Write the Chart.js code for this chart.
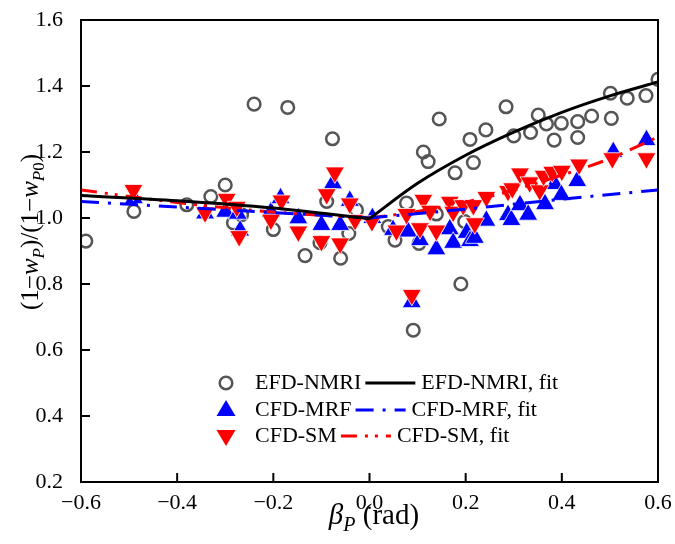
<!DOCTYPE html>
<html>
	<head>
		<meta charset="UTF-8">
		<style>
			body { margin: 0; background: #fff; }
		</style>
	</head>
	<script src="https://cdn.jsdelivr.net/npm/chart.js@4.4.1/dist/chart.umd.min.js"></script>
	<body>
		<canvas id="myChart" width="675" height="544"></canvas>
		<script>
			// EFD-NMRI (open grey circles)
			const efdX = [-0.59,-0.49,-0.38,-0.33,-0.30,-0.283,-0.266,-0.24,-0.20,-0.17,-0.134,-0.103,-0.089,-0.077,-0.06,-0.043,-0.027,0.039,0.053,0.077,0.091,0.103,0.112,0.122,0.139,0.145,0.178,0.19,0.198,0.209,0.216,0.242,0.284,0.30,0.335,0.351,0.368,0.384,0.399,0.433,0.433,0.462,0.501,0.503,0.536,0.575,0.60];
			const efdY = [0.93,1.02,1.04,1.065,1.10,0.985,1.01,1.345,0.965,1.335,0.886,0.925,1.05,1.24,0.878,0.953,1.024,0.974,0.933,1.045,0.66,0.923,1.20,1.171,1.012,1.30,1.137,0.80,0.989,1.238,1.168,1.267,1.337,1.249,1.259,1.312,1.285,1.236,1.287,1.292,1.244,1.309,1.378,1.302,1.363,1.371,1.42];
			// CFD-MRF (blue triangles)
			const mrfX = [-0.49,-0.342,-0.30,-0.274,-0.269,-0.205,-0.185,-0.148,-0.10,-0.076,-0.061,-0.041,0.006,0.049,0.08,0.088,0.105,0.139,0.167,0.174,0.202,0.209,0.219,0.243,0.288,0.295,0.313,0.33,0.365,0.385,0.399,0.432,0.507,0.576];
			const mrfY = [1.06,1.014,1.019,1.013,0.962,1.018,1.06,0.999,0.979,1.105,0.979,1.052,1.0,0.964,0.959,0.745,0.933,0.905,0.966,0.925,0.955,0.93,0.94,0.992,1.009,0.994,1.039,1.01,1.042,1.103,1.07,1.112,1.2,1.236];
			// CFD-SM (red down triangles)
			const smX = [-0.491,-0.342,-0.297,-0.276,-0.271,-0.205,-0.183,-0.148,-0.10,-0.089,-0.072,-0.061,-0.041,-0.03,0.005,0.056,0.077,0.088,0.105,0.112,0.126,0.139,0.167,0.174,0.195,0.216,0.219,0.243,0.288,0.297,0.313,0.333,0.354,0.362,0.38,0.40,0.436,0.505,0.576];
			const smY = [1.085,1.017,1.058,1.034,0.945,0.995,1.053,0.959,0.93,1.072,1.138,0.923,1.044,0.994,0.99,0.962,1.012,0.767,0.969,1.055,1.022,0.962,1.049,1.019,1.039,1.039,0.984,1.064,1.082,1.09,1.135,1.108,1.084,1.128,1.14,1.143,1.162,1.181,1.181];
			// fit curves
			const efdFitX = [-0.6,-0.4,-0.2,0,0.1,0.2,0.3,0.4,0.5,0.6];
			const efdFitY = [1.068,1.052,1.03,0.998,1.105,1.19,1.26,1.32,1.37,1.412];
			const mrfFitX = [-0.6,-0.3,0,0.2,0.4,0.6];
			const mrfFitY = [1.05,1.025,1.0,1.027,1.057,1.085];
			const smFitX = [-0.6,-0.4,-0.2,0,0.1,0.2,0.3,0.4,0.5,0.6];
			const smFitY = [1.085,1.047,1.018,1.0,1.02,1.048,1.085,1.13,1.18,1.246];

			const serif = '"Liberation Serif", "Times New Roman", serif';
			const pts = (xs, ys) => xs.map((x, i) => ({x: x, y: ys[i]}));
			const half = (xs, ys, left) => pts(xs, ys).filter(p => left ? p.x <= 0 : p.x >= 0);

			const fitLine = (data, color, dash, order) => ({
				type: 'line', data: data, borderColor: color, borderWidth: 3,
				borderDash: dash, pointRadius: 0, fill: false, order: order,
				cubicInterpolationMode: 'monotone'
			});

			function rich(ctx, parts, cx, cy) {
				let w = 0;
				parts.forEach(p => { ctx.font = p.f; w += ctx.measureText(p.t).width; });
				let x = cx - w / 2;
				ctx.textAlign = 'left';
				ctx.textBaseline = 'alphabetic';
				parts.forEach(p => {
					ctx.font = p.f;
					ctx.fillText(p.t, x, cy + (p.dy || 0));
					x += ctx.measureText(p.t).width;
				});
			}

			// fixed box: no extra room for the edge tick labels
			const noPad = s => { s.paddingTop = 0; s.paddingBottom = 0; s.paddingLeft = 0; s.paddingRight = 0; };

			const extras = {
				id: 'extras',
				afterDraw(chart) {
					const ctx = chart.ctx;
					const a = chart.chartArea;
					const xs = chart.scales.x, ys = chart.scales.y;
					ctx.save();
					ctx.strokeStyle = '#000';
					ctx.lineWidth = 2;
					ctx.strokeRect(a.left, a.top, a.right - a.left, a.bottom - a.top);
					// inward ticks
					xs.ticks.forEach(t => {
						const px = xs.getPixelForValue(t.value);
						ctx.beginPath(); ctx.moveTo(px, a.bottom); ctx.lineTo(px, a.bottom - 9); ctx.stroke();
					});
					ys.ticks.forEach(t => {
						const py = ys.getPixelForValue(t.value);
						ctx.beginPath(); ctx.moveTo(a.left, py); ctx.lineTo(a.left + 9, py); ctx.stroke();
					});
					ctx.fillStyle = '#000';
					// x title
					rich(ctx, [
						{t: '\u03B2', f: 'italic 29px ' + serif},
						{t: 'P', f: 'italic 20px ' + serif, dy: 7},
						{t: ' (rad)', f: '29px ' + serif}
					], 374, 524);
					// y title
					ctx.save();
					ctx.translate(38, 232);
					ctx.rotate(-Math.PI / 2);
					rich(ctx, [
						{t: '(1\u2212', f: '25px ' + serif},
						{t: 'w', f: 'italic 25px ' + serif},
						{t: 'P', f: 'italic 17px ' + serif, dy: 6},
						{t: ')/(1\u2212', f: '25px ' + serif},
						{t: 'w', f: 'italic 25px ' + serif},
						{t: 'P', f: 'italic 17px ' + serif, dy: 6},
						{t: '0', f: '17px ' + serif, dy: 6},
						{t: ')', f: '25px ' + serif}
					], 0, 0);
					ctx.restore();
					// legend
					const rows = [
						{y: 383, name: 'EFD-NMRI', col: '#000', dash: [], mk: 'circle'},
						{y: 410, name: 'CFD-MRF', col: '#0000ff', dash: [18, 9, 3, 9], mk: 'up'},
						{y: 436, name: 'CFD-SM', col: '#ff0000', dash: [16, 8, 3, 7, 3, 8], mk: 'down'}
					];
					const lf = '22px ' + serif;
					ctx.textBaseline = 'middle';
					rows.forEach(r => {
						if (r.mk === 'circle') {
							ctx.strokeStyle = '#555'; ctx.lineWidth = 2.5; ctx.setLineDash([]);
							ctx.beginPath(); ctx.arc(226, r.y, 6.3, 0, Math.PI * 2); ctx.stroke();
						} else {
							const s = r.mk === 'up' ? 1 : -1;
							ctx.fillStyle = r.col;
							ctx.beginPath();
							ctx.moveTo(226, r.y - s * 10);
							ctx.lineTo(226 + 9.5, r.y + s * 6);
							ctx.lineTo(226 - 9.5, r.y + s * 6);
							ctx.closePath(); ctx.fill();
						}
						ctx.fillStyle = '#000';
						ctx.font = lf;
						ctx.textAlign = 'left';
						ctx.fillText(r.name, 255, r.y);
						const x0 = 255 + ctx.measureText(r.name).width + 4;
						ctx.strokeStyle = r.col; ctx.lineWidth = 3; ctx.setLineDash(r.dash);
						ctx.beginPath(); ctx.moveTo(x0, r.y); ctx.lineTo(x0 + 50, r.y); ctx.stroke();
						ctx.setLineDash([]);
						ctx.fillText(r.name + ', fit', x0 + 56, r.y);
					});
					ctx.restore();
				}
			};

			new Chart('myChart', {
				type: 'scatter',
				data: {
					datasets: [
						fitLine(half(efdFitX, efdFitY, true), '#000', [], 0),
						fitLine(half(efdFitX, efdFitY, false), '#000', [], 0),
						fitLine(half(mrfFitX, mrfFitY, true), '#0000ff', [18, 9, 3, 9], 0),
						fitLine(half(mrfFitX, mrfFitY, false), '#0000ff', [18, 9, 3, 9], 0),
						fitLine(half(smFitX, smFitY, true), '#ff0000', [16, 8, 3, 7, 3, 8], 0),
						fitLine(half(smFitX, smFitY, false), '#ff0000', [16, 8, 3, 7, 3, 8], 0),
						{
							data: pts(smX, smY), pointStyle: 'triangle', rotation: 180,
							pointRadius: 11, backgroundColor: '#ff0000', borderColor: '#fff',
							borderWidth: 0.8, order: 1
						},
						{
							data: pts(mrfX, mrfY), pointStyle: 'triangle',
							pointRadius: 11, backgroundColor: '#0000ff', borderColor: '#fff',
							borderWidth: 0.8, order: 2
						},
						{
							data: pts(efdX, efdY), pointStyle: 'circle',
							pointRadius: 6.3, backgroundColor: 'rgba(0,0,0,0)', borderColor: '#555',
							borderWidth: 2.5, order: 3
						}
					]
				},
				options: {
					responsive: false,
					animation: false,
					layout: {padding: {left: 0, right: 17, top: 20, bottom: 0}},
					plugins: {legend: {display: false}, tooltip: {enabled: false}},
					scales: {
						x: {
							type: 'linear', min: -0.6, max: 0.6,
							grid: {display: false, drawTicks: false},
							border: {display: false},
							afterFit: s => { s.height = 62; noPad(s); },
							ticks: {
								stepSize: 0.2, padding: 8, color: '#000', maxRotation: 0,
								font: {family: serif, size: 22},
								callback: v => (Math.abs(v) < 1e-9 ? '0.0' : (v < 0 ? '\u2212' : '') + Math.abs(v).toFixed(1))
							}
						},
						y: {
							type: 'linear', min: 0.2, max: 1.6,
							grid: {display: false, drawTicks: false},
							border: {display: false},
							afterFit: s => { s.width = 81; noPad(s); },
							ticks: {
								stepSize: 0.2, padding: 18, color: '#000',
								font: {family: serif, size: 22},
								callback: v => v.toFixed(1)
							}
						}
					}
				},
				plugins: [extras]
			});
		</script>
	</body>
</html>
